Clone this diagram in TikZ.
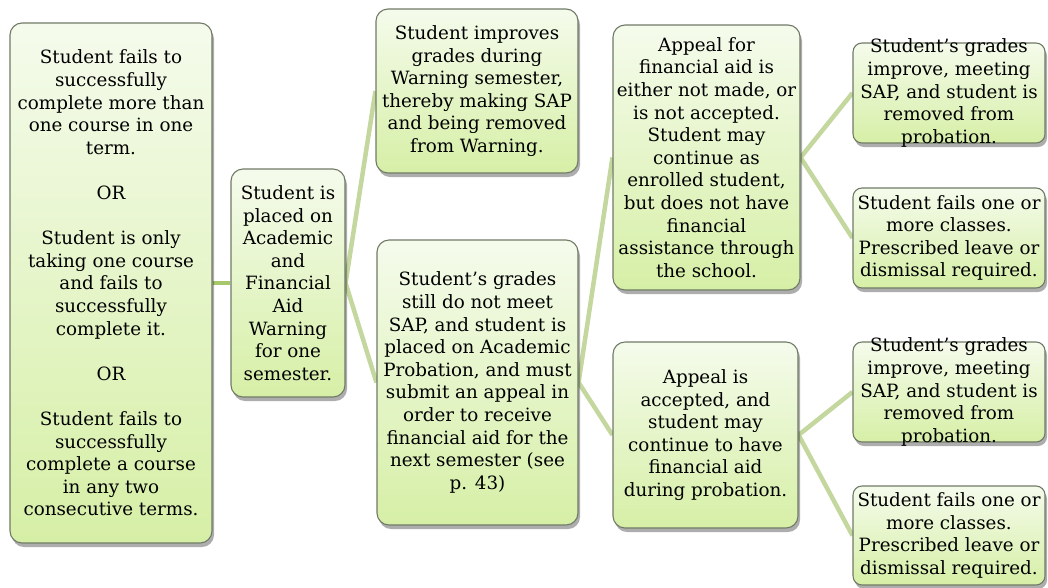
\documentclass[tikz,border=0pt]{standalone}
\usepackage{fontspec}
\setmainfont{DejaVu Serif}
\usetikzlibrary{shadows,backgrounds}
\definecolor{boxtop}{RGB}{245,251,236}
\definecolor{boxbot}{RGB}{214,239,166}
\definecolor{boxedge}{RGB}{112,122,102}
\definecolor{linkA}{RGB}{166,199,106}
\definecolor{linkB}{RGB}{196,215,158}
\newcommand{\apos}{\symbol{"27}}
\tikzset{
  box/.style={draw=boxedge, line width=1.1pt, rounded corners=12pt,
    shading=axis, top color=boxtop, bottom color=boxbot,
    drop shadow={shadow xshift=2pt, shadow yshift=-4pt, opacity=0.32, fill=black},
    inner sep=0pt},
  smallbox/.style={box, rounded corners=9pt},
  txt/.style={align=center, inner sep=0pt,
    font=\fontsize{18.3}{22.6}\selectfont},
  link/.style={line width=4.5pt, draw=linkB},
  linkmain/.style={line width=4.5pt, draw=linkA}
}
\begin{document}
\begin{tikzpicture}[x=1pt,y=-1pt]
\useasboundingbox (0,0) rectangle (1048,587);
% boxes
\node[box, minimum width=202pt, minimum height=520pt] (A) at (111,283) {};
\node[box, minimum width=114pt, minimum height=228pt] (B) at (288,283) {};
\node[box, minimum width=202pt, minimum height=164pt] (C) at (477,91) {};
\node[box, minimum width=201pt, minimum height=285pt] (D) at (477.5,382.5) {};
\node[box, minimum width=187pt, minimum height=265pt] (E) at (706.5,157.5) {};
\node[box, minimum width=185pt, minimum height=186pt] (G) at (705.5,435) {};
\node[smallbox, minimum width=192pt, minimum height=100pt] (F1) at (949,93) {};
\node[smallbox, minimum width=192pt, minimum height=100pt] (F2) at (949,238) {};
\node[smallbox, minimum width=192pt, minimum height=100pt] (H1) at (949,392) {};
\node[smallbox, minimum width=192pt, minimum height=99pt] (H2) at (949,535.5) {};
% connectors
\begin{scope}[on background layer]
\draw[linkmain] (A.east) -- (B.west);
\draw[link] (B.east) -- (C.west);
\draw[link] (B.east) -- (D.west);
\draw[link] (D.east) -- (E.west);
\draw[link] (D.east) -- (G.west);
\draw[link] (E.east) -- (F1.west);
\draw[link] (E.east) -- (F2.west);
\draw[link] (G.east) -- (H1.west);
\draw[link] (G.east) -- (H2.west);
\end{scope}
% texts
\node[txt] (At) at (A.center) {Student fails to\\successfully\\complete more than\\one course in one\\term.\\[22.6pt]OR\\[22.6pt]Student is only\\taking one course\\and fails to\\successfully\\complete it.\\[22.6pt]OR\\[22.6pt]Student fails to\\successfully\\complete a course\\in any two\\consecutive terms.};
\node[txt] (Bt) at (B.center) {Student is\\placed on\\Academic\\and\\Financial\\Aid\\Warning\\for one\\semester.};
\node[txt] (Ct) at (C.center) {Student improves\\grades during\\Warning semester,\\thereby making SAP\\and being removed\\from Warning.};
\node[txt] (Dt) at (D.center) {Student\apos s grades\\still do not meet\\SAP, and student is\\placed on Academic\\Probation, and must\\submit an appeal in\\order to receive\\financial aid for the\\next semester (see\\p. 43)};
\node[txt] (Et) at (E.center) {Appeal for\\financial aid is\\either not made, or\\is not accepted.\\Student may\\continue as\\enrolled student,\\but does not have\\financial\\assistance through\\the school.};
\node[txt] (Gt) at (G.center) {Appeal is\\accepted, and\\student may\\continue to have\\financial aid\\during probation.};
\node[txt] (F1t) at (F1.center) {Student\apos s grades\\improve, meeting\\SAP, and student is\\removed from\\probation.};
\node[txt] (F2t) at (F2.center) {Student fails one or\\more classes.\\Prescribed leave or\\dismissal required.};
\node[txt] (H1t) at (H1.center) {Student\apos s grades\\improve, meeting\\SAP, and student is\\removed from\\probation.};
\node[txt] (H2t) at (H2.center) {Student fails one or\\more classes.\\Prescribed leave or\\dismissal required.};
\end{tikzpicture}
\end{document}
